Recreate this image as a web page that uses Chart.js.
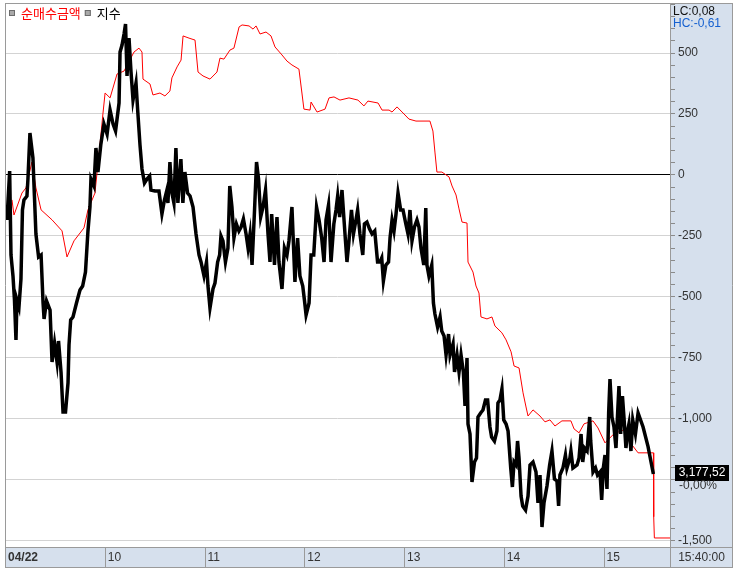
<!doctype html>
<html lang="ko">

<head>
    <meta charset="utf-8">
    <title>순매수금액 / 지수</title>
    <style>
        body { margin: 0; background: #fff; }
    </style>
</head>

<body>
    <canvas id="myChart" width="736" height="572"></canvas>

    <script src="https://cdn.jsdelivr.net/npm/chart.js"></script>
    <script>
        // setup
        const seriesNames = ['순매수금액', '지수'];
        const hourLabels = ['04/22', '10', '11', '12', '13', '14', '15'];
        const cornerLabels = ['LC:0,08', 'HC:-0,61'];
        const lastIndexLabel = '3,177,52';
        const lastChangeLabel = '-0,00%';
        const endTimeLabel = '15:40:00';

        // minutes since 09:00
        const idxTimes = [
            1.2, 2.8, 3.6, 4.8, 5.7, 6.6, 7.2, 8.4, 9.6, 10.5, 11.4, 13.2, 13.8, 15.0, 16.8, 17.7, 18.6, 20.2, 21.7, 22.9, 23.5, 25.0, 27.1, 28.3, 29.8, 31.3, 32.2, 33.7, 34.9, 36.4, 37.9, 38.5, 39.5, 40.9, 43.0, 45.1, 46.7, 48.4, 49.9, 51.1, 51.7, 53.5, 54.7, 55.9, 57.6, 59.5, 61.4, 63.2, 65.0, 66.5, 68.6,
            69.2, 70.4, 71.6, 72.5, 73.4, 74.6, 75.8, 77.0, 78.8, 79.8, 81.2, 82.4, 83.9, 85.4, 87.0, 87.8, 90.2, 92.6, 94.4, 95.9, 97.4, 98.0, 99.2, 100.4, 101.6, 102.8, 104.0, 105.8, 107.0, 108.2, 109.8, 111.3, 113.1, 114.9, 116.7, 117.9, 119.7, 121.2, 122.1, 123.3, 125.1, 126.3, 127.9, 129.1, 129.9, 131.1,
            132.6, 134.1, 135.2, 136.5, 137.7, 139.2, 140.7, 142.0, 143.4, 145.0, 146.2, 147.4, 148.6, 150.1, 151.3, 152.5, 153.8, 155.2, 156.7, 158.2, 159.4, 160.4, 162.1, 163.6, 164.8, 166.6, 168.1, 169.6, 170.8, 172.6, 174.4, 176.0, 177.4, 179.1, 180.1, 181.1, 182.9, 184.1, 185.7, 187.4, 188.9, 190.5, 191.9, 193.1, 194.6, 196.1, 197.8,
            199.1, 200.1, 201.3, 202.7, 203.8, 204.8, 205.7, 206.9, 208.4, 209.6, 211.1, 212.1, 213.5, 215.2, 216.2, 217.7, 219.3, 220.8, 222.4, 224.1, 225.6, 226.6, 227.6, 229.1, 230.7, 231.6, 232.8, 234.0, 235.2, 236.4, 238.0, 239.4, 241.1, 242.4, 243.6, 244.8, 246.3, 247.8, 249.0, 250.2, 251.9, 253.1, 253.8, 255.0, 256.7, 257.7, 258.6, 260.2, 261.7,
            262.7, 264.1, 265.3, 266.8, 267.7, 269.5, 270.4, 271.9, 273.1, 274.3, 275.7, 276.7, 277.9, 278.5, 279.7, 280.9, 282.4, 283.6, 284.5, 286.1, 287.5, 289.0, 290.3, 291.7, 292.7, 294.4, 295.9, 296.5, 297.7, 298.9, 300.0, 301.4, 302.6, 304.2, 305.2, 306.2, 307.4, 308.3, 309.2, 310.4, 311.4, 313.1, 314.6, 315.8, 317.6, 319.4, 320.6, 321.8, 323.0, 324.2, 326.0, 327.6, 329.0, 330.5, 332.0,
            333.0, 333.8, 335.6, 337.1, 338.0, 339.8, 340.4, 341.6, 344.1, 345.3, 346.5, 347.5, 348.6, 350.1, 351.7, 352.3, 353.7, 355.2, 356.4, 357.9, 358.9, 359.9, 360.9, 362.1, 363.1, 363.9, 365.1, 366.3, 367.5, 368.7, 369.3, 370.3, 371.4, 372.3, 373.5, 374.5, 375.3, 376.5, 377.6, 379.2, 380.8, 383.8, 386.8, 390
        ];
        const idxValues = [
            3192.76, 3195.70, 3190.66, 3189.40, 3187.96, 3185.56, 3187.96, 3187.54, 3189.22, 3193.36, 3193.96, 3194.20, 3195.22, 3197.98, 3196.48, 3194.20, 3191.92, 3190.54, 3190.66, 3187.78, 3186.82, 3187.90, 3187.36, 3184.24, 3185.38, 3184.24, 3185.50, 3183.64, 3181.24, 3181.24, 3182.98, 3185.26, 3186.76, 3186.94, 3187.78, 3188.56, 3188.80, 3189.64, 3192.10, 3193.54, 3195.22, 3194.80, 3197.08, 3195.64, 3197.26, 3198.52, 3197.92, 3199.36, 3198.52, 3198.10, 3199.78,
            3202.84, 3203.26, 3203.92, 3204.52, 3201.40, 3203.68, 3201.64, 3199.96, 3200.98, 3199.36, 3197.26, 3195.82, 3194.98, 3195.22, 3195.40, 3194.56, 3194.50, 3194.50, 3193.12, 3193.96, 3194.56, 3193.78, 3196.24, 3194.38, 3193.78, 3197.08, 3193.78, 3196.42, 3193.78, 3195.64, 3194.38, 3194.20, 3193.54, 3191.92, 3190.66, 3190.24, 3189.40, 3190.24, 3188.80, 3187.48, 3188.62, 3188.98, 3190.24, 3190.66, 3191.80, 3191.50,
            3190.24, 3191.08, 3194.80, 3193.54, 3191.68, 3192.52, 3192.10, 3192.34, 3192.82, 3191.92, 3191.08, 3191.92, 3190.06, 3193.36, 3196.24, 3195.22, 3192.94, 3193.54, 3194.56, 3191.92, 3190.24, 3193.12, 3190.06, 3192.94, 3190.24, 3188.62, 3191.08, 3190.66, 3191.50, 3193.54, 3189.04, 3191.68, 3189.40, 3188.80, 3187.96, 3187.06, 3187.78, 3190.66, 3190.66, 3193.54, 3192.76, 3191.68, 3190.24, 3192.76, 3193.66, 3190.24, 3192.52,
            3193.36, 3194.20, 3192.94, 3194.56, 3192.94, 3191.50, 3190.24, 3191.50, 3193.36, 3191.92, 3192.76, 3193.36, 3191.92, 3190.66, 3192.52, 3192.64, 3192.22, 3191.92, 3192.10, 3190.24, 3190.24, 3190.48, 3189.10, 3190.06, 3190.24, 3191.68, 3192.76, 3192.10, 3193.12, 3194.38, 3193.36, 3193.36, 3192.52, 3191.92, 3193.36, 3191.50, 3192.34, 3192.76, 3192.34, 3191.08, 3190.06, 3193.48, 3190.06, 3189.40, 3190.06, 3187.78, 3187.12, 3186.34, 3186.94,
            3186.10, 3185.80, 3184.66, 3185.92, 3184.66, 3185.32, 3183.64, 3184.66, 3183.64, 3184.66, 3183.64, 3181.60, 3184.48, 3180.52, 3179.92, 3177.04, 3178.24, 3178.48, 3180.94, 3181.18, 3181.36, 3181.96, 3181.96, 3180.34, 3179.74, 3179.50, 3180.10, 3181.78, 3181.96, 3182.62, 3180.76, 3180.52, 3180.10, 3177.88, 3176.74, 3178.24, 3178.06, 3179.50, 3178.48, 3176.20, 3175.60, 3175.36, 3176.20, 3178.06, 3178.24, 3177.64, 3175.78, 3177.46, 3174.34, 3175.78, 3176.80, 3178.06, 3178.90, 3177.22, 3177.10,
            3175.60, 3177.46, 3177.88, 3178.66, 3177.88, 3178.48, 3178.90, 3177.88, 3178.06, 3178.48, 3179.92, 3178.24, 3179.08, 3178.90, 3180.94, 3179.50, 3177.64, 3177.88, 3177.46, 3177.64, 3175.96, 3177.88, 3178.66, 3176.62, 3181.18, 3183.22, 3180.94, 3180.34, 3179.08, 3181.60, 3182.80, 3179.92, 3182.20, 3180.94, 3179.08, 3180.10, 3180.52, 3178.90, 3180.76, 3179.92, 3181.18, 3180.34, 3179.16, 3177.52
        ];

        const netTimes = [
            4.2, 5.4, 10.2, 12.6, 16.2, 18.6, 21.7, 28.3, 34.3, 37.3, 41.5, 47.5, 49.9, 54.1, 57.1, 58.9, 60.2, 63.2, 67.4, 71.6,
            77.6, 80.6, 82.4, 83.0, 87.2, 89.0, 93.2, 96.2, 99.2, 100.4, 103.5, 105.9, 107.1, 110.7, 114.3, 116.1, 119.1, 123.3, 127.5, 129.3,
            131.7, 135.3, 137.7, 140.8, 142.6, 146.8, 149.2, 151.0, 153.4, 157.0, 160.0, 162.4, 166.6, 169.6, 172.6, 176.8, 178.6, 179.8, 183.5, 184.1,
            187.7, 192.5, 194.9, 197.9, 201.5, 206.9, 212.3, 215.9, 218.3, 224.4, 226.8, 231.0, 232.8, 235.8, 240.0, 243.0, 247.2, 255.6, 257.4, 258.6,
            259.8, 262.8, 267.1, 268.9, 271.3, 273.1, 274.9, 277.9, 278.5, 281.5, 283.3, 285.1, 286.3, 289.9, 292.9, 294.7, 298.9, 301.4, 304.4, 306.2,
            309.2, 311.6, 313.4, 314.6, 317.6, 321.8, 324.8, 327.8, 330.8, 335.0, 340.4, 342.3, 345.3, 348.3, 353.7, 356.7, 360.9, 366.3, 373.5, 375.3,
            380.8, 390.0, 390.2, 390.6, 400
        ];
        const netValues = [
            -102, -164, -74, -53, 53, -53, -143, -184, -229, -336, -270, -217, -143, -74, 123, 250, 336, 316, 414, 426,
            504, 520, 504, 393, 373, 328, 336, 324, 344, 398, 443, 471, 570, 561, 553, 422, 406, 393, 422, 479,
            475, 512, 520, 607, 615, 611, 598, 611, 578, 586, 570, 525, 492, 467, 451, 434, 336, 270, 266, 299,
            258, 270, 316, 320, 307, 316, 307, 283, 303, 295, 266, 266, 258, 279, 250, 229, 221, 221, 180, 94,
            12, 12, -8, -45, -82, -139, -193, -197, -357, -398, -455, -484, -582, -590, -582, -619, -647, -676, -725, -783,
            -791, -893, -951, -988, -963, -988, -1012, -1004, -1029, -1008, -1008, -1041, -1057, -1020, -1008, -1037, -1098, -1061, -1041, -1090,
            -1139, -1139, -1401, -1488, -1488
        ];

        const panelColor = '#d6e0ed';
        const frameColor = '#9a9a9a';
        const numFont = "'Liberation Sans', Arial, sans-serif";
        const krFont = "'Noto Sans CJK KR', 'Noto Sans', sans-serif";

        const data = {
            datasets: [{
                label: seriesNames[0],
                data: netTimes.map((t, i) => ({ x: t, y: netValues[i] })),
                borderColor: '#ff0000',
                borderWidth: 1,
                pointRadius: 0,
                yAxisID: 'y',
                order: 1
            }, {
                label: seriesNames[1],
                data: idxTimes.map((t, i) => ({ x: t, y: idxValues[i] })),
                borderColor: '#000000',
                borderWidth: 3.5,
                pointRadius: 0,
                yAxisID: 'y2',
                order: 0
            }]
        };

        // panel backgrounds, frame, legend, hour separators and side labels
        const frame = {
            id: 'frame',
            beforeDraw: (chart) => {
                const { ctx, chartArea: a } = chart;
                const right = chart.width - 3;
                ctx.save();
                ctx.fillStyle = '#ffffff';
                ctx.fillRect(0, 0, chart.width, chart.height);
                ctx.fillStyle = panelColor;
                ctx.fillRect(a.right, a.top, right - a.right, a.bottom - a.top);
                ctx.fillRect(a.left, a.bottom, right - a.left, 21);
                ctx.restore();
            },
            afterDraw: (chart) => {
                const { ctx, chartArea: a } = chart;
                const right = chart.width - 3;
                const bandBottom = a.bottom + 21;
                ctx.save();
                ctx.strokeStyle = frameColor;
                ctx.lineWidth = 1;
                ctx.beginPath();
                ctx.moveTo(a.left + 0.5, a.top); ctx.lineTo(a.left + 0.5, bandBottom);
                ctx.moveTo(a.left, a.top + 0.5); ctx.lineTo(right, a.top + 0.5);
                ctx.moveTo(right - 0.5, a.top); ctx.lineTo(right - 0.5, bandBottom);
                ctx.moveTo(a.left, bandBottom - 0.5); ctx.lineTo(right, bandBottom - 0.5);
                ctx.moveTo(a.right + 0.5, a.top); ctx.lineTo(a.right + 0.5, bandBottom);
                ctx.moveTo(a.left, a.bottom + 0.5); ctx.lineTo(right, a.bottom + 0.5);
                const xs = chart.scales.x;
                for (let k = 1; k < hourLabels.length; k++) {
                    const px = Math.round(xs.getPixelForValue(k * 60)) + 0.5;
                    ctx.moveTo(px, a.bottom); ctx.lineTo(px, bandBottom);
                }
                ctx.stroke();

                // legend
                ctx.font = '13px ' + krFont;
                ctx.textBaseline = 'middle';
                ctx.textAlign = 'left';
                let lx = a.left + 4;
                chart.data.datasets.forEach((ds) => {
                    ctx.fillStyle = '#a9a9a9';
                    ctx.fillRect(lx, a.top + 7, 6, 6);
                    ctx.strokeStyle = '#6c6c6c';
                    ctx.strokeRect(lx + 0.5, a.top + 7.5, 5, 5);
                    ctx.fillStyle = ds.borderColor;
                    ctx.fillText(ds.label, lx + 12, a.top + 10);
                    lx += 12 + ctx.measureText(ds.label).width + 4;
                });

                ctx.font = '12px ' + numFont;
                ctx.fillStyle = '#111';
                ctx.fillText(cornerLabels[0], a.right + 3, a.top + 9);
                ctx.fillStyle = '#1560d0';
                ctx.fillText(cornerLabels[1], a.right + 3, a.top + 21);

                ctx.textAlign = 'center';
                ctx.fillStyle = '#333';
                ctx.fillText(endTimeLabel, (a.right + right) / 2, a.bottom + 11);

                const py = chart.scales.y2.getPixelForValue(idxValues[idxValues.length - 1]);
                ctx.fillStyle = '#000';
                ctx.fillRect(a.right + 5, py - 9, 54, 16);
                ctx.fillStyle = '#fff';
                ctx.fillText(lastIndexLabel, a.right + 32, py - 1);
                ctx.textAlign = 'left';
                ctx.fillStyle = '#333';
                ctx.fillText(lastChangeLabel, a.right + 9, py + 12);
                ctx.restore();
            }
        };

        const noPad = (s) => { s.paddingTop = 0; s.paddingBottom = 0; s.paddingLeft = 0; s.paddingRight = 0; };

        // config
        const config = {
            type: 'line',
            data,
            plugins: [frame],
            options: {
                responsive: false,
                animation: false,
                layout: { padding: { left: 5, top: 3, right: 3, bottom: 4 } },
                plugins: {
                    tooltip: { enabled: false },
                    legend: { display: false }
                },
                scales: {
                    x: {
                        type: 'linear',
                        position: 'bottom',
                        min: 0,
                        max: 400,
                        afterFit: (s) => { s.height = 21; noPad(s); },
                        grid: { display: false, drawTicks: false },
                        border: { display: false },
                        ticks: {
                            stepSize: 60,
                            includeBounds: false,
                            autoSkip: false,
                            maxRotation: 0,
                            align: 'start',
                            labelOffset: 3,
                            padding: 3,
                            color: '#333',
                            font: (c) => ({ size: 12, family: numFont, weight: c.index === 0 ? 'bold' : 'normal' }),
                            callback: (v) => (v % 60 === 0 && hourLabels[v / 60]) || ''
                        }
                    },
                    y: {
                        position: 'right',
                        min: -1525,
                        max: 705,
                        afterFit: (s) => { s.width = 63; noPad(s); },
                        border: { display: false },
                        grid: {
                            color: (c) => c.tick.value === 0 ? '#000000' : (c.tick.value % 250 === 0 ? '#d3d3d3' : 'rgba(0,0,0,0)'),
                            tickColor: '#8a8a8a',
                            tickLength: 5
                        },
                        ticks: {
                            stepSize: 50,
                            includeBounds: false,
                            autoSkip: false,
                            padding: 3,
                            color: '#333',
                            font: { size: 12, family: numFont },
                            callback: (v) => (v % 250 === 0 && v !== -1250) ? v.toLocaleString('en-US') : ''
                        }
                    },
                    y2: {
                        display: false,
                        min: 3173.14,
                        max: 3205.78
                    }
                }
            }
        };

        // render init block
        const myChart = new Chart(
            document.getElementById('myChart'),
            config
        );
    </script>

</body>

</html>
